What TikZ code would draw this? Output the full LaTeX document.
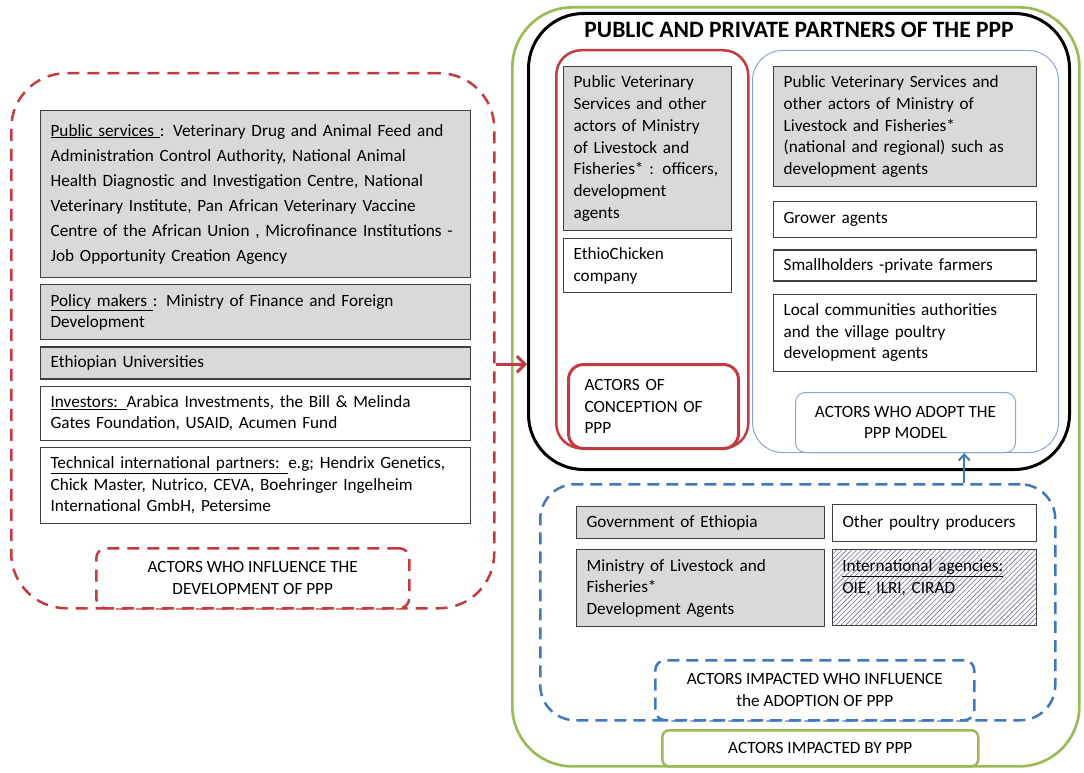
\documentclass[tikz,border=0pt]{standalone}
\usepackage{fontspec}
\setmainfont{Carlito}
\usetikzlibrary{positioning,arrows.meta,patterns.meta}

\definecolor{pppred}{HTML}{C23B41}
\definecolor{pppblue}{HTML}{3F78BE}
\definecolor{adpblue}{HTML}{8AA6D2}
\definecolor{pppgreen}{HTML}{9BBB59}
\definecolor{boxgray}{HTML}{D9D9D9}
\definecolor{boxline}{HTML}{404040}
\definecolor{hatchcol}{HTML}{6A6A98}

\begin{document}
\begin{tikzpicture}[x=1pt,y=-1pt,
    txt/.style={font=\fontsize{17.2}{21.7}\selectfont},
    actor/.style={rectangle,draw=boxline,line width=1.2pt,fill=boxgray,txt,align=left,inner xsep=10pt,inner ysep=0pt},
    plain/.style={actor,fill=white},
    group/.style={rectangle,minimum width=#1,anchor=north west},
    lab/.style={rectangle,fill=white,txt,align=center,anchor=north west,rounded corners=10pt}]
  \useasboundingbox (0,0) rectangle (1084,773);

  % influence group
  \node[group=483pt,minimum height=535pt,draw=pppred,line width=2.5pt,dash pattern=on 12pt off 8pt,rounded corners=55pt] (influence) at (10,72) {};
  \node[actor,text width=410pt,minimum height=167pt,anchor=north west,font=\fontsize{17.2}{25}\selectfont] (pubsrv) at (40,110)
    {\underline{Public services }: Veterinary Drug and Animal Feed and\\Administration Control Authority, National Animal\\Health Diagnostic and Investigation Centre, National\\Veterinary Institute, Pan African Veterinary Vaccine\\Centre of the African Union , Microfinance Institutions -\\Job Opportunity Creation Agency};
  \node[actor,text width=410pt,minimum height=55pt,below=6pt of pubsrv] (policy)
    {\underline{Policy makers }: Ministry of Finance and Foreign\\Development};
  \node[actor,text width=410pt,minimum height=32pt,below=6pt of policy] (univ) {Ethiopian Universities};
  \node[plain,text width=410pt,minimum height=54pt,below=6pt of univ] (invest)
    {\underline{Investors: }Arabica Investments, the Bill \& Melinda\\Gates Foundation, USAID, Acumen Fund};
  \node[plain,text width=410pt,minimum height=76pt,below=6pt of invest] (techp)
    {\underline{Technical international partners: }e.g; Hendrix Genetics,\\Chick Master, Nutrico, CEVA, Boehringer Ingelheim\\International GmbH, Petersime};
  \node[lab,minimum width=313pt,minimum height=60pt,draw=pppred,line width=2.5pt,dash pattern=on 12pt off 8pt] (influencelab) at (95,547)
    {ACTORS WHO INFLUENCE THE\\DEVELOPMENT OF PPP};

  % impacted group
  \node[group=567pt,minimum height=759pt,draw=pppgreen,line width=2.7pt,rounded corners=60pt] (impacted) at (511,6) {};
  \node[lab,minimum width=316pt,minimum height=36pt,draw=pppgreen,line width=2.5pt,rounded corners=7pt] (impactedlab) at (661,729)
    {ACTORS IMPACTED BY PPP};

  % partners
  \node[group=541pt,minimum height=456pt,draw=black,line width=3pt,rounded corners=55pt] (partners) at (527,12) {};
  \node[anchor=base,font=\fontsize{23.5}{28}\selectfont\bfseries] (title) at ([yshift=-26pt]partners.north)
    {PUBLIC AND PRIVATE PARTNERS OF THE PPP};

  % conception
  \node[group=192pt,minimum height=398pt,draw=pppred,line width=2.5pt,rounded corners=25pt] (conception) at (555,49) {};
  \node[actor,text width=148pt,minimum height=164pt,anchor=north west] (concvet) at (563,66)
    {Public Veterinary\\Services and other\\actors of Ministry\\of Livestock and\\Fisheries* : officers,\\development\\agents};
  \node[plain,text width=148pt,minimum height=54pt,below=7pt of concvet] (ethio) {EthioChicken\\company};
  \node[lab,align=left,text width=138pt,inner xsep=16pt,minimum height=84pt,draw=pppred,line width=3pt,rounded corners=15pt] (conceptionlab) at (567,363)
    {ACTORS OF\\CONCEPTION OF\\PPP};

  % adoption
  \node[group=306pt,minimum height=402pt,draw=adpblue,line width=1pt,rounded corners=30pt] (adoption) at (752,50) {};
  \node[actor,text width=243pt,minimum height=120pt,anchor=north west] (adpvet) at (773,66)
    {Public Veterinary Services and\\other actors of Ministry of\\Livestock and Fisheries*\\(national and regional) such as\\development agents};
  \node[plain,text width=243pt,minimum height=36pt,below=14pt of adpvet] (grower) {Grower agents};
  \node[plain,text width=243pt,minimum height=31pt,below=11pt of grower] (small) {Smallholders -private farmers};
  \node[plain,text width=243pt,minimum height=77pt,below=12pt of small] (local)
    {Local communities authorities\\and the village poultry\\development agents};
  \node[lab,minimum width=220pt,minimum height=60pt,draw=adpblue,line width=1pt] (adoptionlab) at (795,392)
    {ACTORS WHO ADOPT THE\\PPP MODEL};

  % impacted who influence adoption
  \node[group=515pt,minimum height=236pt,draw=pppblue,line width=2.5pt,dash pattern=on 12pt off 7pt,rounded corners=35pt] (influencers) at (539,483) {};
  \node[actor,text width=228pt,minimum height=32pt,anchor=north west] (gov) at (576,506) {Government of Ethiopia};
  \node[actor,text width=228pt,minimum height=77pt,below=10pt of gov] (ministry)
    {Ministry of Livestock and\\Fisheries*\\Development Agents};
  \node[plain,text width=184pt,minimum height=37pt,anchor=north west] (otherprod) at (832,504) {Other poultry producers};
  \node[actor,fill=white,pattern={Lines[angle=45,distance=3.5pt,line width=0.6pt]},pattern color=hatchcol,text width=184pt,minimum height=76pt,anchor=north west] (intl) at (832,549)
    {\underline{International agencies:}\\OIE, ILRI, CIRAD\\\mbox{}};
  \node[lab,minimum width=319pt,minimum height=60pt,draw=pppblue,line width=2.5pt,dash pattern=on 12pt off 7pt] (influencerslab) at (654,659)
    {ACTORS IMPACTED WHO INFLUENCE\\the ADOPTION OF PPP};

  % links
  \coordinate (redtail) at ([yshift=-23.5pt]influence.east);
  \draw[pppred,line width=3pt,-{Straight Barb[length=8pt,width=16pt]}] (redtail) -- (redtail -| partners.west);
  \coordinate (bluetail) at ([xshift=166.5pt]influencers.north);
  \draw[pppblue,line width=2pt,-{Straight Barb[length=6pt,width=11pt]}] (bluetail) -- (bluetail |- adoption.south);
\end{tikzpicture}
\end{document}
